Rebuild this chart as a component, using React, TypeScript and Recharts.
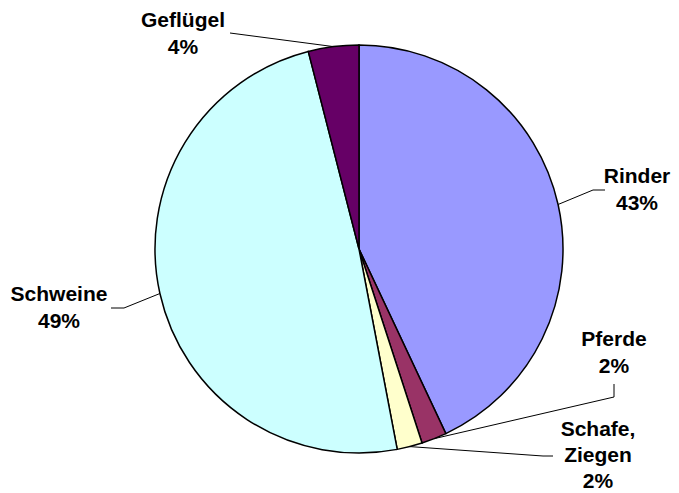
import { PieChart, Pie, Cell } from "recharts";

const categories = ["Rinder", "Pferde", "Schafe, Ziegen", "Schweine", "Geflügel"];
const shares = [43, 2, 2, 49, 4];
const colors = ["#9999FF", "#993366", "#FFFFCC", "#CCFFFF", "#660066"];

const data = categories.map((name, i) => ({ name, value: shares[i] }));

// label placement: text lines, text centre x, first baseline, line gap, leader line bend points
const labelLayout = [
  { lines: ["Rinder"], x: 637, y: 183, gap: 27, path: [[593, 190], [605, 190]] },
  { lines: ["Pferde"], x: 614, y: 346, gap: 27, path: [[614, 397], [614, 384]] },
  { lines: ["Schafe,", "Ziegen"], x: 598, y: 436, gap: 26, path: [[543, 456], [553, 456]] },
  { lines: ["Schweine"], x: 59, y: 301, gap: 27, path: [[124, 308], [111, 308]] },
  { lines: ["Geflügel"], x: 183, y: 27, gap: 27, path: [[230, 33]] },
];

const RAD = Math.PI / 180;

function renderLabel(props: any) {
  const { cx, cy, midAngle, outerRadius, index, value } = props;
  const lay = labelLayout[index];
  const px = cx + outerRadius * Math.cos(-midAngle * RAD);
  const py = cy + outerRadius * Math.sin(-midAngle * RAD);
  const pts = [[px, py], ...lay.path].map((p) => p.join(",")).join(" ");
  const rows = [...lay.lines, `${value}%`];
  return (
    <g key={`lbl-${index}`}>
      <polyline points={pts} fill="none" stroke="#000" strokeWidth={1} />
      <text
        x={lay.x}
        y={lay.y}
        textAnchor="middle"
        fontFamily="'Liberation Sans', Arial, sans-serif"
        fontWeight="bold"
        fontSize={21}
        fill="#000"
      >
        {rows.map((r, i) => (
          <tspan key={i} x={lay.x} dy={i === 0 ? 0 : lay.gap}>
            {r}
          </tspan>
        ))}
      </text>
    </g>
  );
}

export default function App() {
  return (
    <div style={{ position: "absolute", left: 0, top: 0, background: "#fff" }}>
      <PieChart width={679} height={493} margin={{ top: 0, right: 0, bottom: 0, left: 0 }}>
        <Pie
          data={data}
          dataKey="value"
          nameKey="name"
          cx={359}
          cy={249}
          outerRadius={204}
          startAngle={90}
          endAngle={-270}
          stroke="#000"
          strokeWidth={1.5}
          label={renderLabel}
          labelLine={false}
          isAnimationActive={false}
        >
          {data.map((d, i) => (
            <Cell key={d.name} fill={colors[i]} />
          ))}
        </Pie>
      </PieChart>
    </div>
  );
}
